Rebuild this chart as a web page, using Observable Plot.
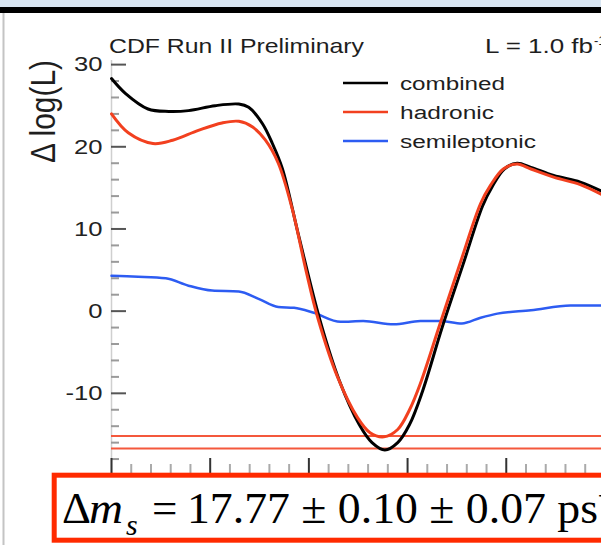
<!DOCTYPE html>
<html><head><meta charset="utf-8">
<script src="https://cdn.jsdelivr.net/npm/d3@7"></script>
<script src="https://cdn.jsdelivr.net/npm/@observablehq/plot@0.6"></script>
<style>
html,body{margin:0;padding:0;background:#fff;width:601px;height:545px;overflow:hidden;}
#chart{position:absolute;left:0;top:0;}
</style></head><body><div id="chart"></div>
<script>
// ---- data ----
const combinedX = [15.00, 15.14, 15.37, 15.58, 15.78, 16.05, 16.29, 16.39, 16.53, 16.63, 16.73, 16.90, 17.11, 17.31, 17.51, 17.64, 17.77, 17.90, 18.02, 18.15, 18.35, 18.56, 18.76, 18.86, 18.98, 19.11, 19.25, 19.48, 19.75, 19.965];
const combinedY = [28.3, 26.5, 24.6, 24.3, 24.4, 25.0, 25.2, 24.8, 22.8, 20.4, 17.4, 9.0, -1.0, -8.5, -13.8, -16.0, -16.9, -16.0, -13.8, -9.8, -2.0, 5.6, 12.8, 15.2, 17.3, 18.0, 17.5, 16.5, 15.7, 14.6];
const hadronicX = [15.00, 15.17, 15.42, 15.62, 15.88, 16.12, 16.29, 16.43, 16.56, 16.69, 16.83, 16.97, 17.09, 17.29, 17.49, 17.62, 17.76, 17.90, 18.02, 18.13, 18.33, 18.54, 18.74, 18.84, 18.97, 19.11, 19.25, 19.48, 19.75, 19.965];
const hadronicY = [24.0, 21.7, 20.4, 20.8, 22.0, 22.9, 23.1, 22.4, 20.8, 18.0, 12.5, 5.0, -0.8, -8.0, -12.9, -14.8, -15.3, -14.4, -12.0, -8.8, -1.5, 6.1, 13.1, 15.3, 17.3, 17.9, 17.3, 16.3, 15.4, 14.2];
const semiX = [15.00, 15.27, 15.55, 15.78, 16.02, 16.29, 16.49, 16.69, 16.85, 17.05, 17.32, 17.55, 17.86, 18.13, 18.33, 18.55, 18.74, 18.91, 19.25, 19.65, 19.965];
const semiY = [4.3, 4.2, 4.0, 3.1, 2.5, 2.4, 1.5, 0.5, 0.4, -0.2, -1.3, -1.2, -1.6, -1.2, -1.2, -1.5, -0.8, -0.3, 0.1, 0.7, 0.7];
const levelLines = [-15.2, -16.7];
const yMajorTicks = [30, 20, 10, 0, -10];
const yMinorTicks = [28, 26, 24, 22, 18, 16, 14, 12, 8, 6, 4, 2, -2, -4, -6, -8, -12, -14, -16, -18];
const xMajorTicks = [15, 16, 17, 18, 19];
const xMinorTicks = [15.2, 15.4, 15.6, 15.8, 16.2, 16.4, 16.6, 16.8, 17.2, 17.4, 17.6, 17.8, 18.2, 18.4, 18.6, 18.8, 19.2, 19.4, 19.6, 19.8];
const seriesNames = ["combined", "hadronic", "semileptonic"];
const seriesColors = ["#000000", "#f2401f", "#2d5cf2"];

const toRows = (xs, ys) => xs.map((x, i) => ({x, y: ys[i]}));
const combined = toRows(combinedX, combinedY);
const hadronic = toRows(hadronicX, hadronicY);
const semi = toRows(semiX, semiY);

const W = 601, H = 545;
const chart = Plot.plot({
  width: W, height: H,
  marginLeft: 111, marginRight: 0, marginTop: 60, marginBottom: 70,
  x: {domain: [15, 19.965], axis: null},
  y: {domain: [-20, 30.5], axis: null},
  style: {fontFamily: "'Liberation Sans', Arial, sans-serif", background: "transparent", overflow: "visible"},
  marks: [
    Plot.ruleX([15], {stroke: "#cfcfcf", strokeWidth: 1.5}),
    Plot.tickY(yMinorTicks, {y: d => d, insetRight: 490 - 8, stroke: "#9a9a9a", strokeWidth: 2}),
    Plot.tickY(yMajorTicks, {y: d => d, insetRight: 490 - 15, stroke: "#555", strokeWidth: 2}),
    Plot.tickX(xMinorTicks, {x: d => d, insetTop: 415 - 11, stroke: "#aaa", strokeWidth: 2}),
    Plot.tickX(xMajorTicks, {x: d => d, insetTop: 415 - 17, stroke: "#333", strokeWidth: 2}),
    Plot.text(yMajorTicks, {y: d => d, text: d => String(d), frameAnchor: "left", dx: -9, textAnchor: "end", fontSize: 21, fill: "#222"}),
    Plot.ruleY(levelLines, {y: d => d, stroke: "#f4583c", strokeWidth: 2}),
    Plot.line(semi, {x: "x", y: "y", stroke: seriesColors[2], strokeWidth: 2.5, curve: "monotone-x"}),
    Plot.line(combined, {x: "x", y: "y", stroke: seriesColors[0], strokeWidth: 3, curve: "catmull-rom"}),
    Plot.line(hadronic, {x: "x", y: "y", stroke: seriesColors[1], strokeWidth: 3, curve: "catmull-rom"})
  ]
});
document.getElementById("chart").appendChild(chart);

const svg = d3.select(chart);
// stretch tick labels horizontally like the reference
svg.selectAll("text").each(function() {
  const len = this.getComputedTextLength();
  d3.select(this).attr("textLength", len * 1.22).attr("lengthAdjust", "spacingAndGlyphs");
});

// slide decorations
svg.append("rect").attr("x", 0).attr("y", 0).attr("width", W).attr("height", 7).attr("fill", "#d9e6f2");
svg.append("rect").attr("x", 0).attr("y", 7).attr("width", W).attr("height", 6).attr("fill", "#000");
svg.append("line").attr("x1", 3.5).attr("x2", 3.5).attr("y1", 13).attr("y2", H).attr("stroke", "#c4c4c4").attr("stroke-width", 2);

function addText(txt, x, y, size, len, opts = {}) {
  const t = svg.append("text").attr("x", x).attr("y", y)
    .attr("text-anchor", "start")
    .attr("font-size", size).attr("fill", opts.fill || "#1e1e1e")
    .attr("font-family", opts.family || "'Liberation Sans', Arial, sans-serif")
    .text(txt);
  if (len) t.attr("textLength", len).attr("lengthAdjust", "spacingAndGlyphs");
  return t;
}
addText("CDF Run II Preliminary", 109, 53, 21, 255);
addText("L = 1.0 fb", 485, 53, 21, 108);
addText("-1", 594, 45, 13, null);

// y-axis title (rotated)
svg.append("text")
  .attr("transform", "translate(55,163) scale(1.2,1) rotate(-90)")
  .attr("text-anchor", "start")
  .attr("font-size", 29).attr("fill", "#1e1e1e")
  .attr("font-family", "'Liberation Sans', Arial, sans-serif")
  .attr("textLength", 103).attr("lengthAdjust", "spacingAndGlyphs")
  .text("Δ log(L)");

// legend
const legendY = [83, 112, 141];
const legendLen = [105, 94, 136];
seriesNames.forEach((name, i) => {
  svg.append("line").attr("x1", 343).attr("x2", 388).attr("y1", legendY[i]).attr("y2", legendY[i])
    .attr("stroke", seriesColors[i]).attr("stroke-width", 2.5);
  addText(name, 400, legendY[i] + 7, 18, legendLen[i]);
});

// result box
svg.append("rect").attr("x", 54.2).attr("y", 475.2).attr("width", 600).attr("height", 65)
  .attr("fill", "#fff").attr("stroke", "#ff2a00").attr("stroke-width", 5);
const cap = svg.append("text").attr("x", 62).attr("y", 523).attr("text-anchor", "start")
  .attr("font-family", "'Liberation Serif', 'Times New Roman', serif").attr("font-size", 45).attr("fill", "#000");
cap.append("tspan").text("Δ");
cap.append("tspan").attr("x", 89).attr("font-style", "italic").attr("textLength", 34).attr("lengthAdjust", "spacingAndGlyphs").text("m");
cap.append("tspan").attr("x", 126).attr("font-style", "italic").attr("font-size", 30).attr("dy", 12).text("s");
cap.append("tspan").attr("x", 152).attr("dy", -12).text("=");
cap.append("tspan").attr("x", 187).attr("textLength", 411).attr("lengthAdjust", "spacingAndGlyphs").text("17.77 ± 0.10 ± 0.07 ps");
cap.append("tspan").attr("font-size", 28).attr("dy", -18).text("−1");
</script>
</body></html>
